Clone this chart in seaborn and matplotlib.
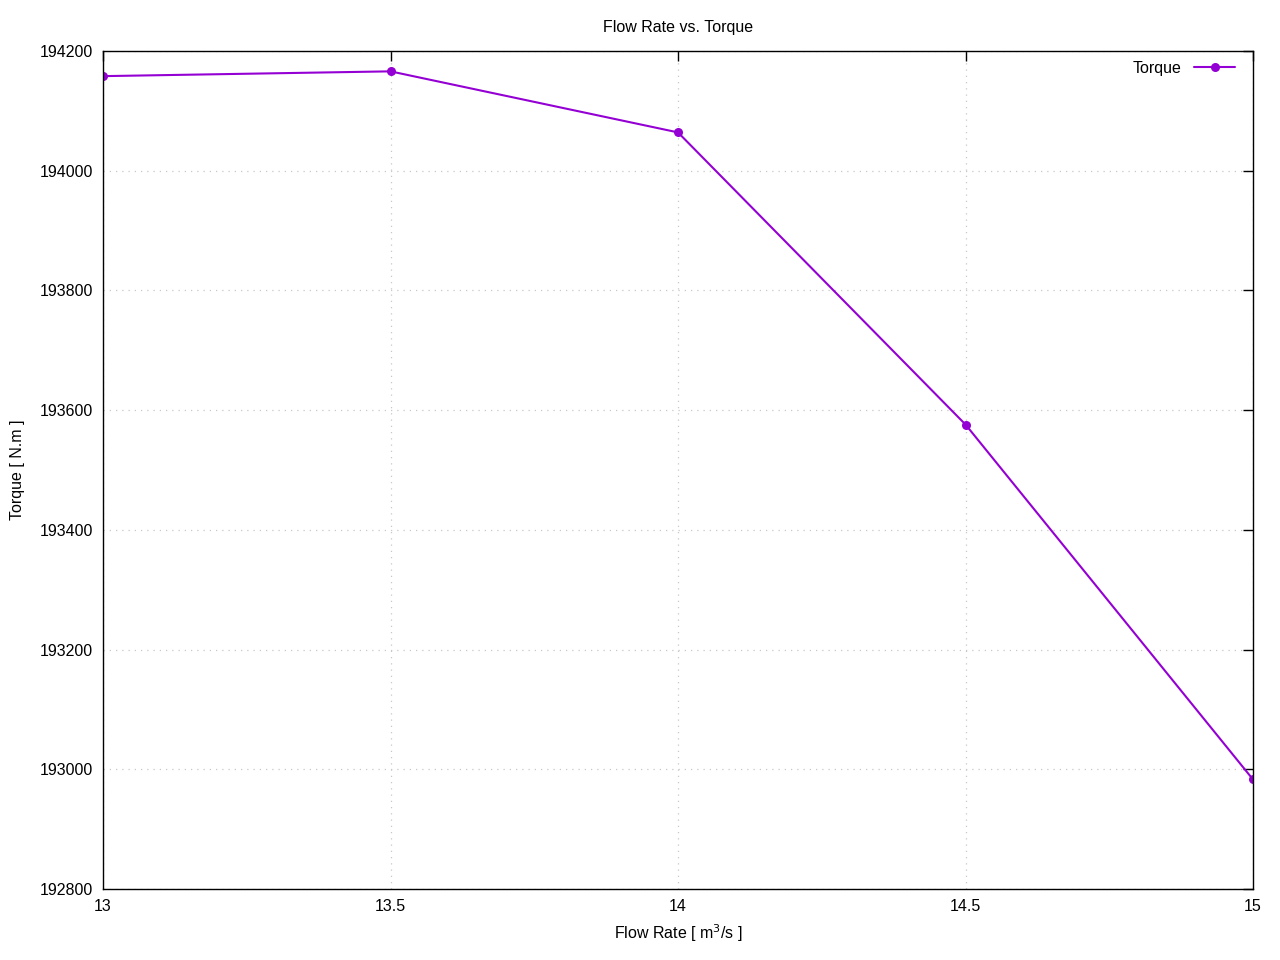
"""
Flow rate vs. torque line chart (gnuplot look).
"""
import matplotlib
matplotlib.use("Agg")
import matplotlib.pyplot as plt
import seaborn as sns
import pandas as pd

flow_rate = [13, 13.5, 14, 14.5, 15]
torque = [194158, 194166, 194064, 193576, 192983]
x_ticks = [13, 13.5, 14, 14.5, 15]
x_tick_labels = ["13", "13.5", "14", "14.5", "15"]
y_ticks = [192800, 193000, 193200, 193400, 193600, 193800, 194000, 194200]

sns.set_theme(style="white")
plt.rcParams['font.family'] = ['Liberation Sans', 'DejaVu Sans']
plt.rcParams['font.size'] = 11.5
plt.rcParams['text.color'] = 'black'
plt.rcParams['axes.labelcolor'] = 'black'

df = pd.DataFrame({"Flow Rate": flow_rate, "Torque": torque})

fig = plt.figure(figsize=(12.8, 9.6), dpi=100)
ax = fig.add_axes([103/1280, 1 - 889/960, (1253 - 103)/1280, (889 - 51)/960])

sns.lineplot(data=df, x="Flow Rate", y="Torque", ax=ax, color="#9400D3",
             marker="o", markersize=6.5, markeredgewidth=0, linewidth=1.5,
             label="Torque")

ax.set_xlim(13, 15)
ax.set_ylim(192800, 194200)
ax.set_xticks(x_ticks)
ax.set_xticklabels(x_tick_labels)
ax.set_yticks(y_ticks)
ax.yaxis.set_major_formatter(matplotlib.ticker.FuncFormatter(lambda v, p: f"{int(v)}"))

ax.grid(True, color="#c8c8c8", linestyle=(0, (1, 4)), linewidth=0.9)
for s in ax.spines.values():
    s.set_color("black")
    s.set_linewidth(1.0)
ax.tick_params(direction="in", length=7, width=1, colors="black",
               top=True, right=True, labelsize=11.5, pad=7)

ax.set_title("Flow Rate vs. Torque", fontsize=11.5, pad=14, color="black")
ax.set_xlabel("Flow Rate [ m$^3$/s ]", fontsize=11.5, labelpad=6)
ax.set_ylabel("Torque [ N.m ]", fontsize=11.5, labelpad=11)

leg = ax.legend(loc="upper right", frameon=False, markerfirst=False,
                fontsize=11.5, handlelength=2.6, borderaxespad=0.2,
                bbox_to_anchor=(0.993, 1.0))

fig.savefig("out.png", dpi=100)
